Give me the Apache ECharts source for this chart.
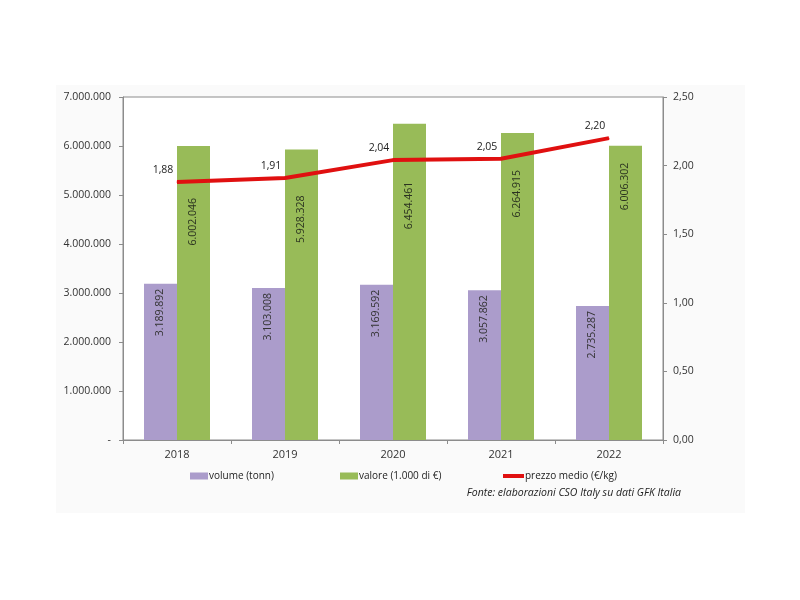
<!DOCTYPE html>
<html>
<head>
<meta charset="utf-8">
<script src="https://cdn.jsdelivr.net/npm/echarts@6/dist/echarts.min.js"></script>
<style>html,body{margin:0;padding:0;background:#fff;}#c{width:800px;height:600px;}</style>
</head>
<body>
<div id="c"></div>
<script>
var categories = ['2018', '2019', '2020', '2021', '2022'];
var volume = [3189892, 3103008, 3169592, 3057862, 2735287];
var valore = [6002046, 5928328, 6454461, 6264915, 6006302];
var prezzo = [1.88, 1.91, 2.04, 2.05, 2.20];
var seriesNames = ['volume (tonn)', 'valore (1.000 di €)', 'prezzo medio (€/kg)'];
var sourceText = 'Fonte: elaborazioni CSO Italy su dati GFK Italia';

// layout only: distance (px) of the green labels from the bar top
var valoreLabelGap = [52, 46, 58, 37, 17];

function fmtDot(n) {
  return String(Math.round(n)).replace(/\B(?=(\d{3})+(?!\d))/g, '.');
}
function fmtComma(v) { return v.toFixed(2).replace('.', ','); }

var FONT = 'Open Sans';
var chart = echarts.init(document.getElementById('c'), null, {renderer: 'canvas'});

chart.setOption({
  backgroundColor: '#ffffff',
  animation: false,
  textStyle: {fontFamily: FONT},
  graphic: [{
    type: 'rect', z: -10, silent: true,
    shape: {x: 56, y: 85, width: 689, height: 428},
    style: {fill: '#fafafa'}
  }],
  title: {
    text: sourceText,
    right: 114, top: 483,
    textStyle: {fontFamily: FONT, fontSize: 10.5, fontStyle: 'italic', fontWeight: 'normal', color: '#222'}
  },
  grid: {
    left: 123, right: 137, top: 97, bottom: 160,
    show: true, backgroundColor: '#ffffff', borderColor: '#8c8c8c', borderWidth: 1,
    containLabel: false
  },
  legend: [
    {data: [seriesNames[0]], left: 185, top: 466, itemWidth: 18, itemHeight: 7, icon: 'rect', itemGap: 0,
     textStyle: {fontFamily: FONT, fontSize: 10, color: '#222', padding: [0, 0, 0, -4]}},
    {data: [seriesNames[1]], left: 335, top: 466, itemWidth: 18, itemHeight: 7, icon: 'rect', itemGap: 0,
     textStyle: {fontFamily: FONT, fontSize: 10, color: '#222', padding: [0, 0, 0, -4]}},
    {data: [seriesNames[2]], left: 498, top: 466, itemWidth: 21, itemHeight: 4, icon: 'rect', itemGap: 0,
     textStyle: {fontFamily: FONT, fontSize: 10, color: '#222', padding: [0, 0, 0, -4]}}
  ],
  xAxis: {
    type: 'category',
    data: categories,
    axisLine: {lineStyle: {color: '#8c8c8c', width: 1}},
    axisTick: {show: true, length: 4, lineStyle: {color: '#8c8c8c'}},
    axisLabel: {fontFamily: FONT, fontSize: 11, color: '#333', margin: 9}
  },
  yAxis: [{
    type: 'value', min: 0, max: 7000000, interval: 1000000, position: 'left',
    splitLine: {show: false},
    axisLine: {show: true, lineStyle: {color: '#8c8c8c'}},
    axisTick: {show: true, length: 4, lineStyle: {color: '#8c8c8c'}},
    axisLabel: {fontFamily: FONT, fontSize: 10.5, color: '#333', margin: 12,
      formatter: function (v) { return v === 0 ? '-' : fmtDot(v); }}
  }, {
    type: 'value', min: 0, max: 2.5, interval: 0.5, position: 'right',
    splitLine: {show: false},
    axisLine: {show: true, lineStyle: {color: '#8c8c8c'}},
    axisTick: {show: true, length: 4, lineStyle: {color: '#8c8c8c'}},
    axisLabel: {fontFamily: FONT, fontSize: 10.5, color: '#333', margin: 10,
      formatter: function (v) { return fmtComma(v); }}
  }],
  series: [{
    name: seriesNames[0], type: 'bar', data: volume, yAxisIndex: 0,
    barWidth: 33, barGap: '0%',
    itemStyle: {color: '#ab9ccb'},
    label: {show: true, position: 'insideTop', rotate: 90, align: 'right', verticalAlign: 'middle',
      distance: 5, fontFamily: FONT, fontSize: 10.5, color: '#333',
      formatter: function (p) { return fmtDot(p.value); }}
  }, {
    name: seriesNames[1], type: 'bar', data: valore, yAxisIndex: 0,
    barWidth: 33, barGap: '0%',
    itemStyle: {color: '#98bb58'},
    label: {show: true, position: 'insideTop', rotate: 90, align: 'right', verticalAlign: 'middle',
      distance: 5, fontFamily: FONT, fontSize: 10.5, color: '#2b3320',
      formatter: function (p) { return fmtDot(p.value); }},
    labelLayout: function (params) {
      var r = params.rect;
      return {
        x: r.x + r.width / 2,
        y: r.y + valoreLabelGap[params.dataIndex],
        align: 'right',
        verticalAlign: 'middle',
        rotate: 90
      };
    }
  }, {
    name: seriesNames[2], type: 'line', data: prezzo, yAxisIndex: 1,
    symbol: 'circle', symbolSize: 1, showSymbol: true, z: 5,
    lineStyle: {color: '#e01010', width: 4},
    itemStyle: {color: '#e01010'},
    label: {show: true, position: 'top', distance: 5, offset: [-14, -1],
      fontFamily: FONT, fontSize: 10.5, color: '#222',
      formatter: function (p) { return fmtComma(p.value); }}
  }]
});
</script>
</body>
</html>
